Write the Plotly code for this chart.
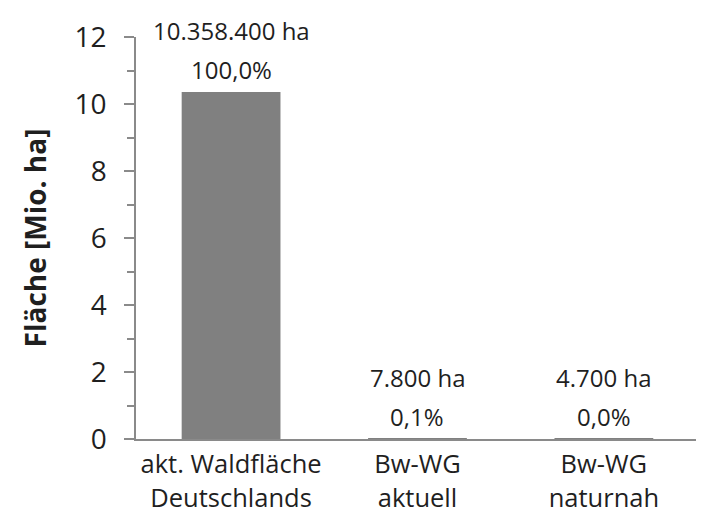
import plotly.graph_objects as go

categories = ["akt. Waldfläche<br>Deutschlands", "Bw-WG<br>aktuell", "Bw-WG<br>naturnah"]
values_mio_ha = [10.3584, 0.0078, 0.0047]
area_labels = ["10.358.400 ha", "7.800 ha", "4.700 ha"]
percent_labels = ["100,0%", "0,1%", "0,0%"]
y_ticks = [0, 2, 4, 6, 8, 10, 12]

FONT = "Open Sans"
TXT = "#1f1f1f"
AX = "#8a8a8a"

fig = go.Figure()
fig.add_trace(go.Bar(
    x=categories, y=values_mio_ha,
    marker=dict(color="#808080", line=dict(width=0)),
    width=0.53, hoverinfo="skip",
))

for c, v, a, p in zip(categories, values_mio_ha, area_labels, percent_labels):
    fig.add_annotation(x=c, y=v, xref="x", yref="y", text=p, showarrow=False,
                       yanchor="bottom", yshift=4,
                       font=dict(family=FONT, size=24, color=TXT))
    fig.add_annotation(x=c, y=v, xref="x", yref="y", text=a, showarrow=False,
                       yanchor="bottom", yshift=43,
                       font=dict(family=FONT, size=24, color=TXT))

fig.update_layout(
    width=704, height=514,
    margin=dict(l=128, r=0, t=29, b=83),
    paper_bgcolor="white", plot_bgcolor="white",
    showlegend=False,
    font=dict(family=FONT, color=TXT),
)
fig.update_xaxes(
    type="category", range=[-0.51, 2.58],
    showline=True, linecolor=AX, linewidth=1.5,
    ticks="", showgrid=False, zeroline=False,
    ticklabelstandoff=2,
    tickfont=dict(family=FONT, size=25.5, color=TXT),
)
fig.update_yaxes(
    range=[0, 12], tickvals=y_ticks,
    showline=True, linecolor=AX, linewidth=1.5,
    ticks="outside", ticklen=10, tickcolor=AX, tickwidth=1.5,
    minor=dict(dtick=1, ticks="outside", ticklen=7, tickcolor=AX, tickwidth=1.5, showgrid=False),
    showgrid=False, zeroline=False,
    ticklabelstandoff=12,
    tickfont=dict(family=FONT, size=28, color=TXT),
    title=dict(text="<b>Fläche [Mio. ha]</b>", font=dict(family=FONT, size=28, color=TXT), standoff=20),
)

fig.write_html("out.html")
